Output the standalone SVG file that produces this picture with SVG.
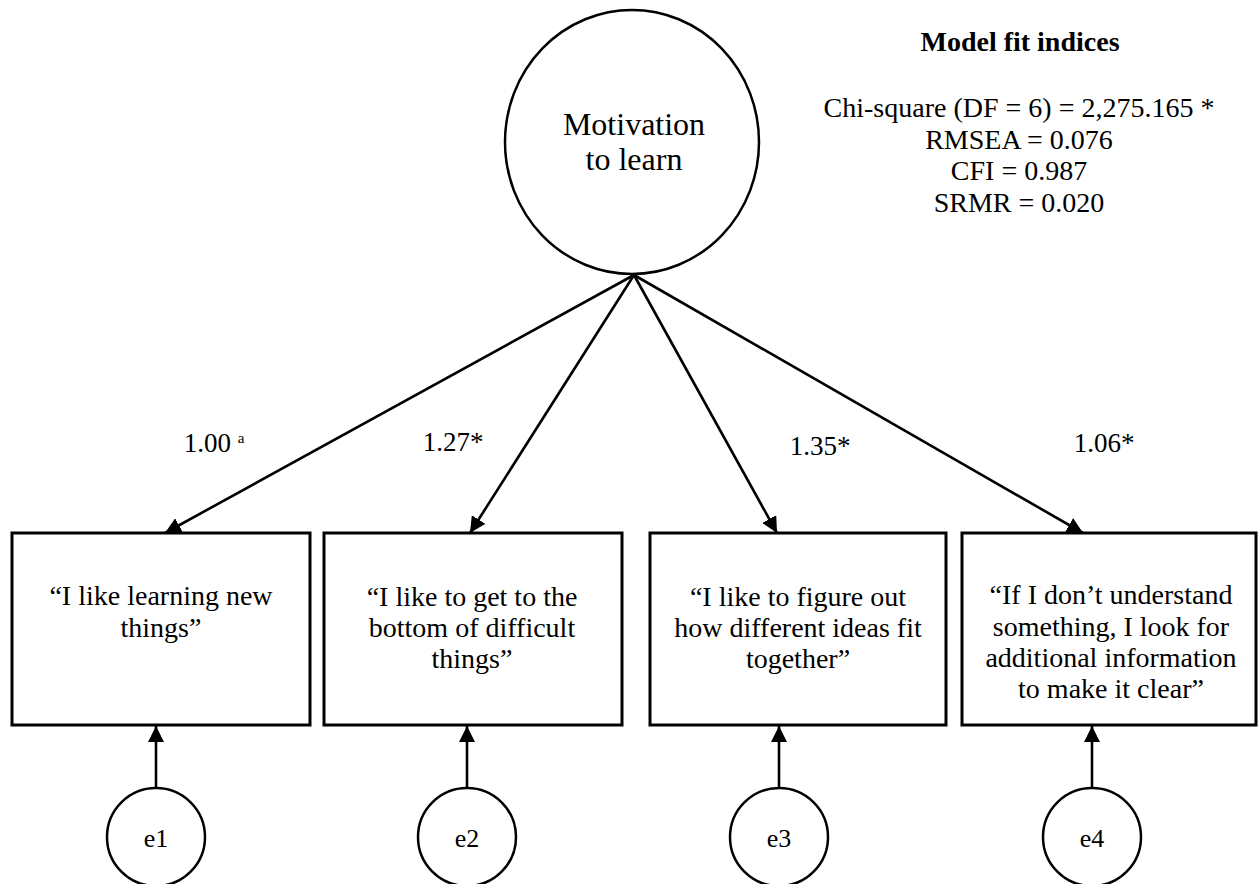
<svg xmlns="http://www.w3.org/2000/svg" width="1258" height="884" viewBox="0 0 1258 884">
<style>
text{font-family:"Liberation Serif","Times New Roman",serif;fill:#000;text-anchor:middle}
.box{fill:#fff;stroke:#000;stroke-width:3}
.circ{fill:#fff;stroke:#000;stroke-width:2.5}
.conn{stroke:#000;stroke-width:2.6;fill:none;marker-end:url(#ah)}
.t28{font-size:28px}
.lab{font-size:27px}
.e{font-size:26px}
</style>
<defs>
<marker id="ah" markerUnits="userSpaceOnUse" markerWidth="16" markerHeight="16" viewBox="0 0 16 16" refX="16" refY="8" orient="auto">
<path d="M0,0 L16,8 L0,16 Z" fill="#000"/>
</marker>
</defs>
<rect width="1258" height="884" fill="#fff"/>
<g id="connectors">
<line class="conn" x1="634" y1="275" x2="165" y2="533"/>
<line class="conn" x1="634" y1="275" x2="470" y2="533"/>
<line class="conn" x1="634" y1="275" x2="777" y2="533"/>
<line class="conn" x1="634" y1="275" x2="1083" y2="533"/>
<line class="conn" x1="156" y1="788" x2="156" y2="726"/>
<line class="conn" x1="467" y1="788" x2="467" y2="726"/>
<line class="conn" x1="779" y1="788" x2="779" y2="726"/>
<line class="conn" x1="1092" y1="788" x2="1092" y2="726"/>
</g>
<g id="motivation">
<ellipse class="circ" cx="632" cy="142" rx="127" ry="132"/>
<text x="634" y="135" font-size="32">Motivation</text>
<text x="634" y="170" font-size="32">to learn</text>
</g>
<g id="fit">
<text x="1020" y="51" font-size="28" font-weight="bold">Model fit indices</text>
<text class="t28" x="1019" y="117">Chi-square (DF = 6) = 2,275.165 *</text>
<text class="t28" x="1019" y="149">RMSEA = 0.076</text>
<text class="t28" x="1019" y="180">CFI = 0.987</text>
<text class="t28" x="1019" y="212">SRMR = 0.020</text>
</g>
<g id="labels">
<text class="lab" x="214" y="452">1.00 <tspan font-size="15" dy="-9">a</tspan></text>
<text class="lab" x="453" y="451">1.27*</text>
<text class="lab" x="820" y="455">1.35*</text>
<text class="lab" x="1104" y="452">1.06*</text>
</g>
<g id="item1">
<rect class="box" x="12" y="533" width="298" height="192"/>
<text class="t28" x="161" y="605">“I like learning new</text>
<text class="t28" x="161" y="637">things”</text>
</g>
<g id="item2">
<rect class="box" x="324" y="533" width="298" height="192"/>
<text class="t28" x="472" y="606">“I like to get to the</text>
<text class="t28" x="472" y="637">bottom of difficult</text>
<text class="t28" x="472" y="668">things”</text>
</g>
<g id="item3">
<rect class="box" x="650" y="533" width="296" height="192"/>
<text class="t28" x="798" y="606">“I like to figure out</text>
<text class="t28" x="798" y="637">how different ideas fit</text>
<text class="t28" x="798" y="668">together”</text>
</g>
<g id="item4">
<rect class="box" x="962" y="533" width="294" height="192"/>
<text class="t28" x="1111" y="604">“If I don’t understand</text>
<text class="t28" x="1111" y="636">something, I look for</text>
<text class="t28" x="1111" y="667">additional information</text>
<text class="t28" x="1111" y="698">to make it clear”</text>
</g>
<g id="e1">
<circle class="circ" cx="156" cy="837" r="49"/>
<text class="e" x="156" y="847">e1</text>
</g>
<g id="e2">
<circle class="circ" cx="467" cy="837" r="49"/>
<text class="e" x="467" y="847">e2</text>
</g>
<g id="e3">
<circle class="circ" cx="779" cy="837" r="49"/>
<text class="e" x="779" y="847">e3</text>
</g>
<g id="e4">
<circle class="circ" cx="1092" cy="837" r="49"/>
<text class="e" x="1092" y="847">e4</text>
</g>
</svg>
